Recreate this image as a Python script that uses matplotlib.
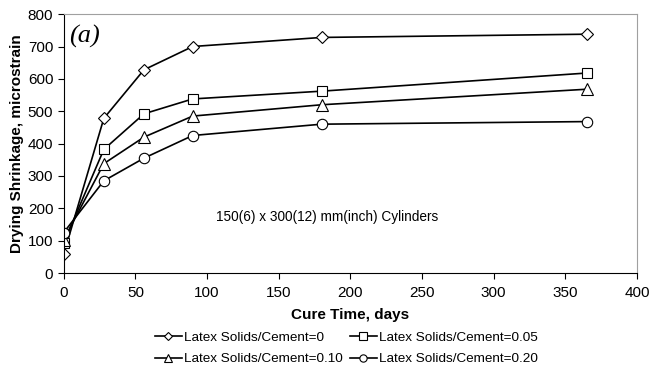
import matplotlib
matplotlib.use("Agg")
import matplotlib.pyplot as plt

plt.rcParams['font.family'] = ['Liberation Sans', 'DejaVu Sans']

days = [0, 28, 56, 90, 180, 365]
s0 = [58, 478, 628, 700, 728, 738]
s05 = [93, 382, 492, 538, 562, 618]
s10 = [103, 338, 420, 485, 520, 568]
s20 = [125, 285, 355, 425, 460, 468]
labels = ['Latex Solids/Cement=0', 'Latex Solids/Cement=0.05',
          'Latex Solids/Cement=0.10', 'Latex Solids/Cement=0.20']
markers = ['D', 's', '^', 'o']
sizes = [6, 7.5, 8, 7.5]

fig = plt.figure(figsize=(6.5, 3.72), dpi=100)
ax = fig.add_axes([0.098, 0.266, 0.882, 0.696])

handles = []
for ys, m, ms, lab in zip([s0, s05, s10, s20], markers, sizes, labels):
    h, = ax.plot(days, ys, color='black', lw=1.2, marker=m, ms=ms,
                 mfc='white', mec='black', mew=0.8, label=lab)
    handles.append(h)

ax.set_xlim(0, 400)
ax.set_ylim(0, 800)
ax.set_xticks(range(0, 401, 50))
ax.set_yticks(range(0, 801, 100))
ax.tick_params(direction='out', length=4, labelsize=11, width=0.8)
ax.tick_params(axis='x', pad=5)
for s in ['top', 'right']:
    ax.spines[s].set_color('#a0a0a0')
ax.tick_params(top=False, right=False)
ax.set_xlabel('Cure Time, days', fontsize=11, fontweight='bold', labelpad=6)
ax.set_ylabel('Drying Shrinkage, microstrain', fontsize=11, fontweight='bold', labelpad=3)

ax.text(184, 173, '150(6) x 300(12) mm(inch) Cylinders', fontsize=9.8,
        ha='center', va='center')
ax.text(0.01, 0.96, '(a)', transform=ax.transAxes, fontsize=19,
        family='Liberation Serif', style='italic', ha='left', va='top')

order = [0, 2, 1, 3]
fig.legend([handles[i] for i in order], [labels[i] for i in order],
           ncol=2, loc='upper center', bbox_to_anchor=(0.533, 0.128),
           frameon=False, fontsize=9.7, handlelength=2.0, handletextpad=0.2,
           columnspacing=0.5, labelspacing=0.7, borderpad=0.0,
           markerscale=0.7)

fig.savefig('out.png', dpi=100)
